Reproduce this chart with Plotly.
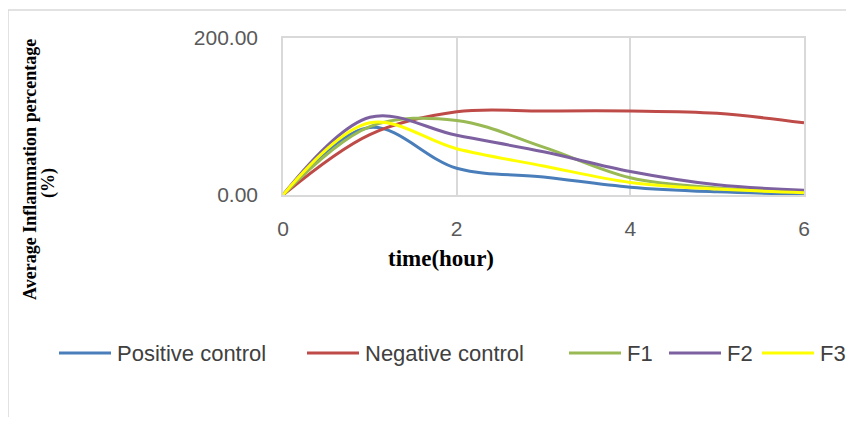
import plotly.graph_objects as go

hours = [0, 1, 2, 3, 4, 5, 6]
positive_control = [0, 86, 34, 23, 10, 4, 1]
negative_control = [0, 77, 106, 107, 107, 104, 92]
f1 = [0, 87, 95, 61, 22, 9, 5]
f2 = [0, 99, 76, 55, 30, 13, 6]
f3 = [0, 92, 59, 37, 16, 7.5, 3]

series = [
    ("Positive control", positive_control, "#4A7EBB"),
    ("Negative control", negative_control, "#BE4B48"),
    ("F1", f1, "#98B954"),
    ("F2", f2, "#7D60A0"),
    ("F3", f3, "#FFFF00"),
]
# legend entry left edges (line sample start), page pixels
legend_x = [59, 307, 569, 669, 762]

OFF = 8  # page body margin in the browser
W, H = 854 - 2 * OFF, 425 - 2 * OFF
L, R, T, B = 283, 804, 38, 195

def px(xp):
    return (xp - L) / (R - L)

def py(yp):
    return (B - yp) / (B - T)

fig = go.Figure()
shapes = [
    dict(type="rect", xref="paper", yref="paper", x0=px(8), x1=px(880), y0=py(460), y1=py(10),
         line=dict(color="#D9D9D9", width=1.5), fillcolor="rgba(0,0,0,0)", layer="below"),
]
annotations = [
    dict(text="<b>Average Inflammation percentage</b>", textangle=-90,
         xref="paper", yref="paper", x=px(30), y=py(170), showarrow=False,
         xanchor="center", yanchor="middle",
         font=dict(family="Liberation Serif", size=18, color="#000000")),
    dict(text="<b>(%)</b>", textangle=-90,
         xref="paper", yref="paper", x=px(48), y=py(183), showarrow=False,
         xanchor="center", yanchor="middle",
         font=dict(family="Liberation Serif", size=18, color="#000000")),
    dict(text="<b>time(hour)</b>", xref="paper", yref="paper", x=px(441), y=py(258),
         showarrow=False, xanchor="center", yanchor="middle",
         font=dict(family="Liberation Serif", size=23, color="#000000")),
]
LEG_Y = 353
for i, (name, vals, col) in enumerate(series):
    fig.add_trace(go.Scatter(x=hours, y=vals, name=name, mode="lines", showlegend=False,
                             line=dict(color=col, width=3, shape="spline", smoothing=1)))
    x0 = legend_x[i]
    shapes.append(dict(type="line", xref="paper", yref="paper",
                       x0=px(x0), x1=px(x0 + 52), y0=py(LEG_Y), y1=py(LEG_Y),
                       line=dict(color=col, width=3)))
    annotations.append(dict(text=name, xref="paper", yref="paper", x=px(x0 + 56), y=py(LEG_Y),
                            showarrow=False, xanchor="left", yanchor="middle",
                            font=dict(family="Liberation Sans", size=22, color="#404040")))

axis_common = dict(showgrid=True, gridcolor="#D9D9D9", gridwidth=1.5, zeroline=False,
                   showline=True, mirror=True, linecolor="#D9D9D9", linewidth=1.5,
                   tickfont=dict(family="Liberation Sans", size=21, color="#595959"), ticks="")

fig.update_layout(
    width=W, height=H,
    margin=dict(l=L - OFF, r=(W + OFF) - R, t=T - OFF, b=(H + OFF) - B, pad=0),
    paper_bgcolor="white", plot_bgcolor="white",
    showlegend=False,
    xaxis=dict(range=[0, 6], tickvals=[0, 2, 4, 6], ticklabelstandoff=14, **axis_common),
    yaxis=dict(range=[0, 200], tickvals=[0, 200], ticktext=["0.00", "200.00"],
               ticklabelstandoff=19, **axis_common),
    annotations=annotations,
    shapes=shapes,
)

fig.write_html("out.html")
